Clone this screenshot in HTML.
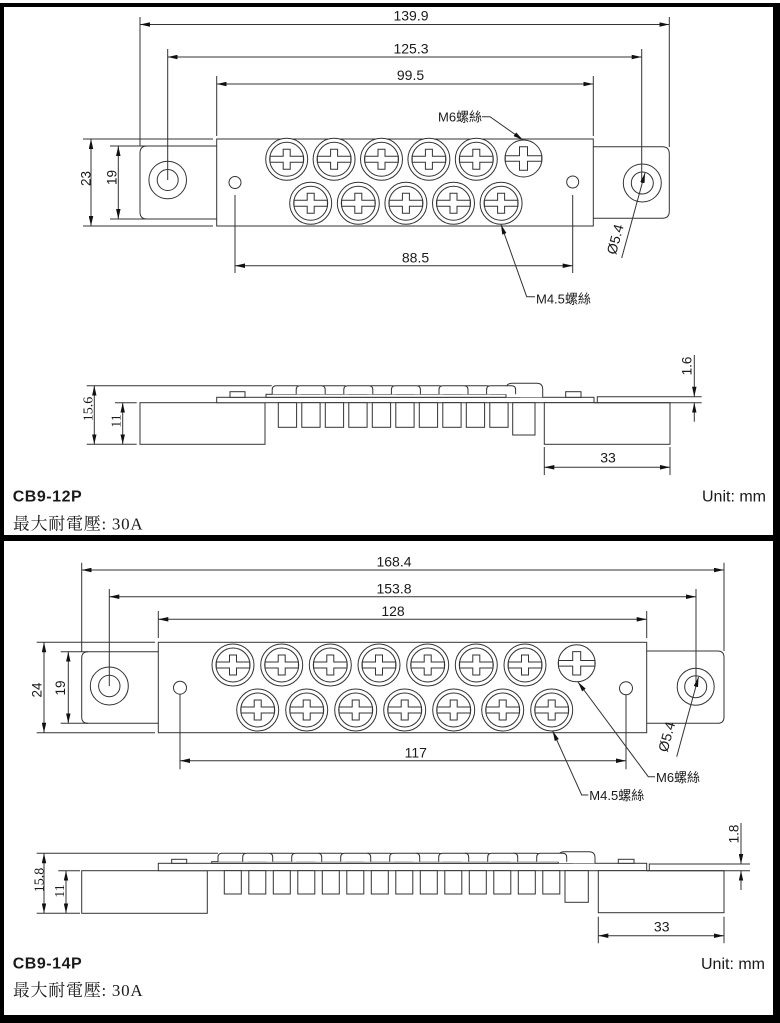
<!DOCTYPE html>
<html><head><meta charset="utf-8"><style>
html,body{margin:0;padding:0;background:#fff;}
svg{display:block;}
text{font-family:"Liberation Sans","Noto Sans CJK TC",sans-serif;fill:#1a1a1a;}
.d{font-size:14px;}
.lb{font-size:13px;}
.r{font-size:13.5px;}
.rs{font-size:14px;font-family:"Liberation Serif",serif;}
.dm{marker-start:url(#a);marker-end:url(#a);}
.ld{marker-end:url(#a);}
.cj{font-family:"Liberation Serif","Noto Serif CJK TC","Noto Serif CJK SC",serif;font-size:17px;}
.b{font-weight:bold;font-size:16px;}
.u{font-size:16px;}
</style></head><body>
<svg width="780" height="1023" viewBox="0 0 780 1023" xmlns="http://www.w3.org/2000/svg">
<defs>
<marker id="a" viewBox="0 0 10 4.5" refX="10" refY="2.25" markerWidth="10" markerHeight="4.5" markerUnits="userSpaceOnUse" orient="auto-start-reverse"><path d="M0,0L10,2.25L0,4.5z" fill="#111"/></marker>
<g id="s" fill="#fff" stroke="#333" stroke-width="1"><circle r="21"/><circle r="17"/><polygon points="-3.5,-10 3.5,-10 3.5,-3 16.7,-3 16.7,3 3.5,3 3.5,10 -3.5,10 -3.5,3 -16.7,3 -16.7,-3 -3.5,-3"/></g>
<g id="m" fill="#fff" stroke="#333" stroke-width="1"><circle r="18.5"/><polygon points="-4,-11.7 4,-11.7 4,-2.8 18.2,-2.8 18.2,2.8 4,2.8 4,11.7 -4,11.7 -4,2.8 -18.2,2.8 -18.2,-2.8 -4,-2.8"/></g>
</defs>

<!-- frame -->
<rect x="0" y="3" width="780" height="4" fill="#000"/>
<rect x="0" y="3" width="4" height="1020" fill="#000"/>
<rect x="773" y="3" width="7" height="1020" fill="#000"/>
<rect x="0" y="1015" width="780" height="8" fill="#000"/>
<rect x="0" y="535" width="780" height="6" fill="#000"/>

<!-- ===== SECTION 1 TOP VIEW ===== -->
<g fill="none" stroke="#333" stroke-width="1">
<path d="M140,17V146 M669.3,17V147 M167.7,49V180 M641.7,49V183 M216.7,76V136 M593.3,76V136 M235,195V273 M572.7,195V273 M83,139H213 M83,226H213 M110,146H147 M110,219H147"/>
<path d="M216.7,146H147Q140,146 140,153V212Q140,219 147,219H216.7"/>
<path d="M593.3,146.7H662.3Q669.3,146.7 669.3,153.7V211.3Q669.3,218.3 662.3,218.3H593.3"/>
<rect x="216.7" y="139" width="376.6" height="87"/>
<circle cx="167.7" cy="180" r="18.8"/><circle cx="167.7" cy="180" r="10.5"/>
<circle cx="642.3" cy="183" r="19"/><circle cx="642.3" cy="183" r="11"/>
<circle cx="235" cy="182.5" r="6"/><circle cx="572.7" cy="182" r="6"/>
</g>
<use href="#s" x="286.7" y="159.3"/><use href="#s" x="334.1" y="159.3"/><use href="#s" x="381.5" y="159.3"/><use href="#s" x="428.9" y="159.3"/><use href="#s" x="476.3" y="159.3"/>
<use href="#m" x="523.5" y="158.5"/>
<use href="#s" x="310.7" y="203.3"/><use href="#s" x="358.3" y="203.3"/><use href="#s" x="405.9" y="203.3"/><use href="#s" x="453.5" y="203.3"/><use href="#s" x="501.1" y="203.3"/>
<g stroke="#333" stroke-width="1" fill="none">
<line class="dm" x1="140" y1="24.5" x2="669.3" y2="24.5"/>
<line class="dm" x1="167.7" y1="57" x2="641.7" y2="57"/>
<line class="dm" x1="216.7" y1="84" x2="593.3" y2="84"/>
<line class="dm" x1="235" y1="265.7" x2="572.7" y2="265.7"/>
<line class="dm" x1="91" y1="139" x2="91" y2="226"/>
<line class="dm" x1="118.3" y1="146" x2="118.3" y2="219"/>
<polyline class="ld" points="482,116.7 490,116.7 523,140"/>
<polyline class="ld" points="535,296.7 526.7,296.7 501,224.5"/>
<line class="ld" x1="621.7" y1="258" x2="645" y2="173"/>
</g>
<text class="d" x="411" y="20.7" text-anchor="middle">139.9</text>
<text class="d" x="411" y="53.3" text-anchor="middle">125.3</text>
<text class="d" x="410.5" y="80" text-anchor="middle">99.5</text>
<text class="d" x="415.5" y="262.5" text-anchor="middle">88.5</text>
<text class="lb" x="438" y="121.7">M6螺絲</text>
<text class="lb" x="536" y="303.3">M4.5螺絲</text>
<text class="d" transform="translate(616,239.5) rotate(-74.7)" text-anchor="middle" dy="4">Ø5.4</text>
<text class="r" transform="translate(90.5,178.5) rotate(-90)" text-anchor="middle">23</text>
<text class="r" transform="translate(116.7,177.5) rotate(-90)" text-anchor="middle">19</text>

<!-- ===== SECTION 1 SIDE VIEW ===== -->
<g fill="#fff" stroke="#333" stroke-width="1">
<path fill="none" d="M86.7,385.7H271.7 M86.7,444.3H136.7 M115,402.7H136.7"/>
<rect x="140" y="402.7" width="125" height="41.6"/>
<rect x="216.7" y="397.3" width="377.3" height="5.4"/>
<rect x="230" y="391.7" width="15" height="5.6"/>
<rect x="565.7" y="391.7" width="15.3" height="5.6"/>
<rect x="266" y="394.3" width="254" height="3"/>
<path d="M506,397.3V389.3Q506,383.3 512,383.3H536.7Q542.7,383.3 542.7,389.3V397.3"/>
<path d="M272.2,394.3V389.7Q272.2,385.7 276.2,385.7H297.2Q301.2,385.7 301.2,389.7V394.3"/>
<path d="M319.6,394.3V389.7Q319.6,385.7 323.6,385.7H344.6Q348.6,385.7 348.6,389.7V394.3"/>
<path d="M367,394.3V389.7Q367,385.7 371,385.7H392Q396,385.7 396,389.7V394.3"/>
<path d="M414.4,394.3V389.7Q414.4,385.7 418.4,385.7H439.4Q443.4,385.7 443.4,389.7V394.3"/>
<path d="M461.8,394.3V389.7Q461.8,385.7 465.8,385.7H486.8Q490.8,385.7 490.8,389.7V394.3"/>
<path d="M296.2,394.3V389.7Q296.2,385.7 300.2,385.7H321.2Q325.2,385.7 325.2,389.7V394.3"/>
<path d="M343.8,394.3V389.7Q343.8,385.7 347.8,385.7H368.8Q372.8,385.7 372.8,389.7V394.3"/>
<path d="M391.4,394.3V389.7Q391.4,385.7 395.4,385.7H416.4Q420.4,385.7 420.4,389.7V394.3"/>
<path d="M439,394.3V389.7Q439,385.7 443,385.7H464Q468,385.7 468,389.7V394.3"/>
<path d="M486.6,394.3V389.7Q486.6,385.7 490.6,385.7H511.6Q515.6,385.7 515.6,389.7V394.3"/>
<rect x="278.3" y="402.7" width="18.3" height="24.6"/>
<rect x="301.8" y="402.7" width="18.3" height="24.6"/>
<rect x="325.3" y="402.7" width="18.3" height="24.6"/>
<rect x="348.8" y="402.7" width="18.3" height="24.6"/>
<rect x="372.3" y="402.7" width="18.3" height="24.6"/>
<rect x="395.8" y="402.7" width="18.3" height="24.6"/>
<rect x="419.3" y="402.7" width="18.3" height="24.6"/>
<rect x="442.8" y="402.7" width="18.3" height="24.6"/>
<rect x="466.3" y="402.7" width="18.3" height="24.6"/>
<rect x="489.8" y="402.7" width="18.3" height="24.6"/>
<rect x="512.7" y="402.7" width="22.3" height="32.3"/>
<rect x="544.3" y="402.7" width="125.7" height="41.6"/>
<path fill="none" d="M597.3,402.7V396.7H701.7 M594,402.7H701.7 M544.3,447V475 M670,447V475"/>
</g>
<g stroke="#333" stroke-width="1" fill="none">
<line class="dm" x1="94.3" y1="385.7" x2="94.3" y2="444.3"/>
<line class="dm" x1="122.7" y1="402.7" x2="122.7" y2="444.3"/>
<line class="dm" x1="544.3" y1="467.3" x2="670" y2="467.3"/>
<line class="ld" x1="694.3" y1="355" x2="694.3" y2="396.7"/>
<line class="ld" x1="694.3" y1="421.7" x2="694.3" y2="402.7"/>
</g>
<text class="rs" transform="translate(92.7,409) rotate(-90)" text-anchor="middle">15.6</text>
<text class="rs" transform="translate(120.3,421) rotate(-90)" text-anchor="middle">11</text>
<text class="r" transform="translate(691.7,366) rotate(-90)" text-anchor="middle">1.6</text>
<text class="d" x="608" y="462.7" text-anchor="middle">33</text>
<text class="b" x="12.7" y="501.7" textLength="69">CB9-12P</text>
<text class="u" x="702" y="501.7">Unit: mm</text>
<text class="cj" x="12.7" y="529.5" textLength="130">最大耐電壓: 30A</text>

<!-- ===== SECTION 2 TOP VIEW ===== -->
<g fill="none" stroke="#333" stroke-width="1">
<path d="M81.7,562.7V652 M724,562.7V651 M109.3,589V686 M696,589V686.7 M158.3,611V638 M646.7,611V638 M180,694V769.3 M626,695V769.3 M36.7,642.3H155 M36.7,732.7H155 M60.7,651.7H88 M60.7,723.3H88"/>
<path d="M158.3,651.7H88Q81.7,651.7 81.7,658V717Q81.7,723.3 88,723.3H158.3"/>
<path d="M646.7,651H717.7Q724,651 724,657.3V717Q724,723.3 717.7,723.3H646.7"/>
<rect x="158.3" y="642.3" width="488.4" height="90.4"/>
<circle cx="109.3" cy="686" r="19"/><circle cx="109.3" cy="686" r="10.7"/>
<circle cx="695.7" cy="686.7" r="18.5"/><circle cx="695.7" cy="686.7" r="11"/>
<circle cx="180" cy="687.7" r="6.5"/><circle cx="626" cy="688.3" r="6.5"/>
</g>
<use href="#s" x="233" y="665"/><use href="#s" x="281.7" y="665"/><use href="#s" x="330.3" y="665"/><use href="#s" x="379" y="665"/><use href="#s" x="427.7" y="665"/><use href="#s" x="476.3" y="665"/><use href="#s" x="525" y="665"/>
<use href="#m" x="576.7" y="663.3"/>
<use href="#s" x="257.7" y="710"/><use href="#s" x="306.7" y="710"/><use href="#s" x="355.7" y="710"/><use href="#s" x="404.7" y="710"/><use href="#s" x="453.7" y="710"/><use href="#s" x="502.7" y="710"/><use href="#s" x="551.7" y="710"/>
<g stroke="#333" stroke-width="1" fill="none">
<line class="dm" x1="81.7" y1="570" x2="724" y2="570"/>
<line class="dm" x1="109.3" y1="596.7" x2="696" y2="596.7"/>
<line class="dm" x1="158.3" y1="619.3" x2="646.7" y2="619.3"/>
<line class="dm" x1="180" y1="760.7" x2="626" y2="760.7"/>
<line class="dm" x1="44" y1="642.3" x2="44" y2="732.7"/>
<line class="dm" x1="68.3" y1="651.7" x2="68.3" y2="723.3"/>
<polyline class="ld" points="655,776.7 648.3,776.7 578,682"/>
<polyline class="ld" points="588.3,795 581.7,795 552.7,731"/>
<line class="ld" x1="676.7" y1="756.7" x2="698.5" y2="677"/>
</g>
<text class="d" x="394" y="566.7" text-anchor="middle">168.4</text>
<text class="d" x="394" y="593.3" text-anchor="middle">153.8</text>
<text class="d" x="393" y="616" text-anchor="middle">128</text>
<text class="d" x="415.8" y="757.3" text-anchor="middle">117</text>
<text class="lb" x="656" y="782">M6螺絲</text>
<text class="lb" x="589.3" y="800">M4.5螺絲</text>
<text class="d" transform="translate(667.5,737) rotate(-74.7)" text-anchor="middle" dy="4">Ø5.4</text>
<text class="r" transform="translate(41.7,690) rotate(-90)" text-anchor="middle">24</text>
<text class="r" transform="translate(65,688) rotate(-90)" text-anchor="middle">19</text>

<!-- ===== SECTION 2 SIDE VIEW ===== -->
<g fill="#fff" stroke="#333" stroke-width="1">
<path fill="none" d="M36.7,853.3H218 M36.7,913.3H80 M58.3,870.7H80"/>
<rect x="81.7" y="870.7" width="125.6" height="42.6"/>
<rect x="158.3" y="863.3" width="488.4" height="7.4"/>
<rect x="171.7" y="859.3" width="15" height="4"/>
<rect x="618.3" y="859.3" width="15.7" height="4"/>
<rect x="211.7" y="861.7" width="360.6" height="1.6"/>
<path d="M558.3,863.3V857.7Q558.3,851.7 564.3,851.7H589Q595,851.7 595,857.7V863.3"/>
<path d="M218,861.7V857.3Q218,853.3 222,853.3H244Q248,853.3 248,857.3V861.7"/>
<path d="M266.7,861.7V857.3Q266.7,853.3 270.7,853.3H292.7Q296.7,853.3 296.7,857.3V861.7"/>
<path d="M315.3,861.7V857.3Q315.3,853.3 319.3,853.3H341.3Q345.3,853.3 345.3,857.3V861.7"/>
<path d="M364,861.7V857.3Q364,853.3 368,853.3H390Q394,853.3 394,857.3V861.7"/>
<path d="M412.7,861.7V857.3Q412.7,853.3 416.7,853.3H438.7Q442.7,853.3 442.7,857.3V861.7"/>
<path d="M461.3,861.7V857.3Q461.3,853.3 465.3,853.3H487.3Q491.3,853.3 491.3,857.3V861.7"/>
<path d="M510,861.7V857.3Q510,853.3 514,853.3H536Q540,853.3 540,857.3V861.7"/>
<path d="M242.7,861.7V857.3Q242.7,853.3 246.7,853.3H268.7Q272.7,853.3 272.7,857.3V861.7"/>
<path d="M291.7,861.7V857.3Q291.7,853.3 295.7,853.3H317.7Q321.7,853.3 321.7,857.3V861.7"/>
<path d="M340.7,861.7V857.3Q340.7,853.3 344.7,853.3H366.7Q370.7,853.3 370.7,857.3V861.7"/>
<path d="M389.7,861.7V857.3Q389.7,853.3 393.7,853.3H415.7Q419.7,853.3 419.7,857.3V861.7"/>
<path d="M438.7,861.7V857.3Q438.7,853.3 442.7,853.3H464.7Q468.7,853.3 468.7,857.3V861.7"/>
<path d="M487.7,861.7V857.3Q487.7,853.3 491.7,853.3H513.7Q517.7,853.3 517.7,857.3V861.7"/>
<path d="M536.7,861.7V857.3Q536.7,853.3 540.7,853.3H562.7Q566.7,853.3 566.7,857.3V861.7"/>
<rect x="224.3" y="870.7" width="17" height="23.3"/>
<rect x="248.8" y="870.7" width="17" height="23.3"/>
<rect x="273.3" y="870.7" width="17" height="23.3"/>
<rect x="297.8" y="870.7" width="17" height="23.3"/>
<rect x="322.3" y="870.7" width="17" height="23.3"/>
<rect x="346.8" y="870.7" width="17" height="23.3"/>
<rect x="371.3" y="870.7" width="17" height="23.3"/>
<rect x="395.8" y="870.7" width="17" height="23.3"/>
<rect x="420.3" y="870.7" width="17" height="23.3"/>
<rect x="444.8" y="870.7" width="17" height="23.3"/>
<rect x="469.3" y="870.7" width="17" height="23.3"/>
<rect x="493.8" y="870.7" width="17" height="23.3"/>
<rect x="518.3" y="870.7" width="17" height="23.3"/>
<rect x="542.8" y="870.7" width="17" height="23.3"/>
<rect x="565" y="870.7" width="23.3" height="31.6"/>
<rect x="598.3" y="870.7" width="125.7" height="42"/>
<path fill="none" d="M649.3,870.7V864H750 M646.7,870.7H750 M598.3,916.7V943.3 M724,916.7V943.3"/>
</g>
<g stroke="#333" stroke-width="1" fill="none">
<line class="dm" x1="44" y1="853.3" x2="44" y2="913.3"/>
<line class="dm" x1="66" y1="870.7" x2="66" y2="913.3"/>
<line class="dm" x1="598.3" y1="935.7" x2="724" y2="935.7"/>
<line class="ld" x1="741" y1="823" x2="741" y2="864"/>
<line class="ld" x1="741" y1="890" x2="741" y2="870.7"/>
</g>
<text class="rs" transform="translate(43.3,880) rotate(-90)" text-anchor="middle">15.8</text>
<text class="rs" transform="translate(64,891) rotate(-90)" text-anchor="middle">11</text>
<text class="r" transform="translate(738.3,834) rotate(-90)" text-anchor="middle">1.8</text>
<text class="d" x="661.7" y="931.7" text-anchor="middle">33</text>
<text class="b" x="12.7" y="968.3" textLength="69">CB9-14P</text>
<text class="u" x="701" y="969">Unit: mm</text>
<text class="cj" x="12.7" y="996" textLength="130">最大耐電壓: 30A</text>
</svg>
</body></html>
